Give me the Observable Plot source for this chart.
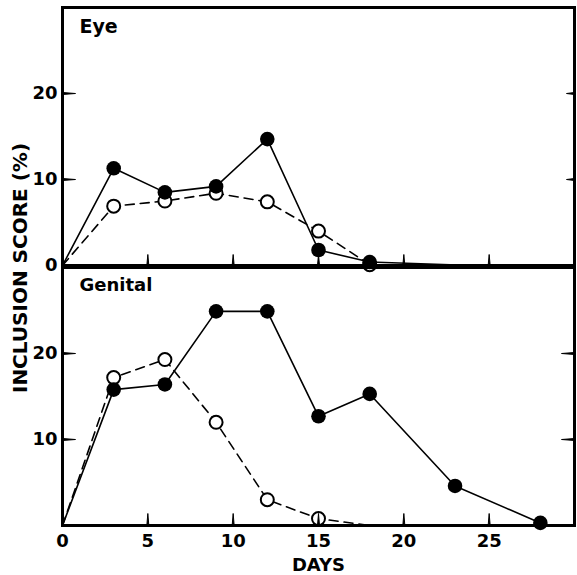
<!DOCTYPE html>
<html>
<head>
<meta charset="utf-8">
<script src="https://cdn.jsdelivr.net/npm/d3@7"></script>
<script src="https://cdn.jsdelivr.net/npm/@observablehq/plot@0.6"></script>
<style>
  body { margin: 0; background: white; }
  #wrap { position: relative; width: 577px; height: 575px; }
  #ylab { position: absolute; left: 20px; top: 268px; transform: translate(-50%, -50%) rotate(-90deg);
          font: bold 20px "DejaVu Sans"; line-height: 1; white-space: nowrap; color: black; }
</style>
</head>
<body>
<div id="wrap">
  <div id="top"></div>
  <div id="bottom"></div>
  <div id="ylab">INCLUSION SCORE (%)</div>
</div>
<script>
// Eye panel
const eyeFilledDays = [0, 3, 6, 9, 12, 15, 18, 24];
const eyeFilledValues = [0, 11.3, 8.5, 9.2, 14.7, 1.8, 0.4, 0];
const eyeOpenDays = [0, 3, 6, 9, 12, 15, 18];
const eyeOpenValues = [0, 6.9, 7.5, 8.4, 7.4, 4.0, 0.1];
// Genital panel
const genFilledDays = [0, 3, 6, 9, 12, 15, 18, 23, 28];
const genFilledValues = [0, 15.8, 16.4, 24.9, 24.9, 12.7, 15.3, 4.6, 0.3];
const genOpenDays = [0, 3, 6, 9, 12, 15, 18];
const genOpenValues = [0, 17.2, 19.3, 12.0, 3.0, 0.8, 0];

const xTicks = [5, 10, 15, 20, 25];
const xTickLabels = [0, 5, 10, 15, 20, 25];
const yTicks = [10, 20];
const eyeYLabels = [0, 10, 20];

const zip = (xs, ys) => xs.map((x, i) => ({day: x, value: ys[i]}));
const eyeF = zip(eyeFilledDays, eyeFilledValues);
const eyeO = zip(eyeOpenDays, eyeOpenValues);
const genF = zip(genFilledDays, genFilledValues);
const genO = zip(genOpenDays, genOpenValues);
const hasMarker = d => d.day > 0 && d.value > 0;

const font = {fontFamily: "DejaVu Sans", fontWeight: "bold", fontSize: "18px", background: "transparent", overflow: "visible"};

function panel(filled, open, {height, marginTop, marginBottom, label, labelSize, labelDy, yLabels, rightTick, xTickLen, bottomAxis}) {
  const tick = {shape: "spike", r: 1, anchor: "start", fill: "black", stroke: "black", strokeWidth: 1};
  const marks = [
    Plot.line(open, {x: "day", y: "value", stroke: "black", strokeWidth: 1.6, strokeDasharray: "9,6"}),
    Plot.line(filled, {x: "day", y: "value", stroke: "black", strokeWidth: 1.6}),
    Plot.dot(open.filter(hasMarker), {x: "day", y: "value", r: 6.5, fill: "white", stroke: "black", strokeWidth: 2}),
    Plot.dot(filled.filter(hasMarker), {x: "day", y: "value", r: 7.3, fill: "black"}),
    Plot.vector(xTicks, {x: d => d, y: 0, length: xTickLen, rotate: 0, ...tick}),
    Plot.vector(yTicks, {x: 0, y: d => d, length: 13, rotate: 90, ...tick}),
    Plot.vector(yTicks, {x: 30, y: d => d, length: rightTick, rotate: -90, ...tick}),
    Plot.frame({stroke: "black", strokeWidth: 3}),
    Plot.text([label], {frameAnchor: "top-left", dx: 17, dy: labelDy, textAnchor: "start", lineAnchor: "top", fontSize: labelSize, fontWeight: "bold", fill: "black"})
  ];
  if (yLabels) marks.push(Plot.axisY(yLabels, {tickSize: 0, tickPadding: 5, label: null, fontSize: 18, fontWeight: "bold"}));
  if (bottomAxis) {
    marks.push(Plot.axisX(xTickLabels, {tickSize: 0, tickPadding: 9, label: null, fontSize: 18, fontWeight: "bold"}));
    marks.push(Plot.text(["DAYS"], {frameAnchor: "bottom", dy: 40, lineAnchor: "middle", fontSize: 18, fontWeight: "bold", fill: "black"}));
  }
  return Plot.plot({
    width: 577, height, marginLeft: 62, marginRight: 3, marginTop, marginBottom,
    style: font,
    x: {domain: [0, 30], axis: null},
    y: {domain: [0, 30], axis: null},
    marks
  });
}

document.getElementById("top").appendChild(panel(eyeF, eyeO, {
  height: 266, marginTop: 7, marginBottom: 1, label: "Eye", labelSize: 19, labelDy: 12,
  yLabels: eyeYLabels, rightTick: 8, xTickLen: 11, bottomAxis: false
}));
document.getElementById("bottom").appendChild(panel(genF, genO, {
  height: 309, marginTop: 1, marginBottom: 50, label: "Genital", labelSize: 18, labelDy: 11,
  yLabels: yTicks, rightTick: 13, xTickLen: 12, bottomAxis: true
}));
</script>
</body>
</html>
